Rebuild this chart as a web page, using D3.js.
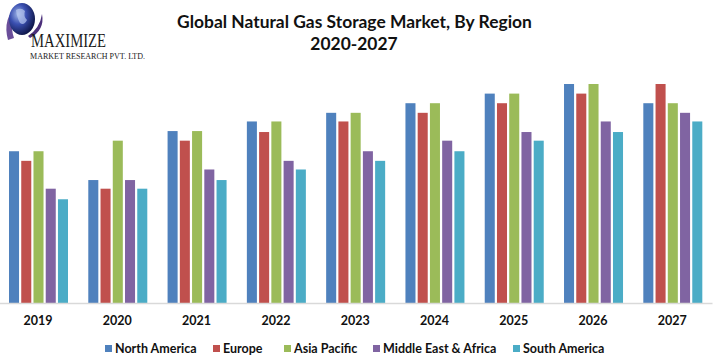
<!DOCTYPE html>
<html>
<head>
<meta charset="utf-8">
<script src="https://cdn.jsdelivr.net/npm/d3@7"></script>
<style>
  html, body { margin: 0; padding: 0; background: #fff; }
  svg { display: block; }
</style>
</head>
<body>
<svg id="chart" width="717" height="359"></svg>
<script>
// ---- data ----
const years = ["2019", "2020", "2021", "2022", "2023", "2024", "2025", "2026", "2027"];
const regions = ["North America", "Europe", "Asia Pacific", "Middle East & Africa", "South America"];
const northAmerica = [15.8, 12.8, 17.9, 18.9, 19.8, 20.8, 21.8, 22.8, 20.8];
const europe       = [14.8, 11.9, 16.9, 17.8, 18.9, 19.8, 20.8, 21.8, 22.8];
const asiaPacific  = [15.8, 16.9, 17.9, 18.9, 19.8, 20.8, 21.8, 22.8, 20.8];
const middleEast   = [11.9, 12.8, 13.9, 14.8, 15.8, 16.9, 17.8, 18.9, 19.8];
const southAmerica = [10.8, 11.9, 12.8, 13.9, 14.8, 15.8, 16.9, 17.8, 18.9];
const seriesValues = [northAmerica, europe, asiaPacific, middleEast, southAmerica];
const colors = ["#4F81BD", "#C0504D", "#9BBB59", "#8064A2", "#4BACC6"];
const titleLines = ["Global Natural Gas Storage Market, By Region", "2020-2027"];

const svg = d3.select("#chart");
const baseY = 303;
const font = "Lato, 'Open Sans', 'Liberation Sans', sans-serif";

const x0 = d3.scaleBand().domain(years).range([-1.6, 712]).padding(0);
const x1 = d3.scaleBand().domain(regions).range([10.6, 69.6]).paddingInner(0.18).paddingOuter(0);
const y = d3.scaleLinear().domain([0, 22.8]).range([baseY, 84]);

// bars
const groups = svg.append("g").selectAll("g").data(years).join("g")
  .attr("transform", d => `translate(${x0(d)},0)`);
groups.selectAll("rect")
  .data((yr, i) => regions.map((r, k) => ({ r, k, v: seriesValues[k][i] })))
  .join("rect")
  .attr("x", d => x1(d.r))
  .attr("width", x1.bandwidth())
  .attr("y", d => y(d.v))
  .attr("height", d => baseY - y(d.v))
  .attr("fill", d => colors[d.k]);

// x axis
const xAxis = d3.axisBottom(x0).tickSize(0).tickPadding(13);
const ax = svg.append("g").attr("transform", `translate(0,${baseY})`).call(xAxis);
ax.select(".domain").attr("stroke", "#D9D9D9").attr("stroke-width", 1.3);
ax.selectAll("text").attr("font-family", font).attr("font-weight", "bold")
  .attr("font-size", 12.5).attr("fill", "#111");

// title
const t1 = svg.append("text").attr("x", 354.5).attr("y", 28).attr("text-anchor", "middle")
  .attr("font-family", font).attr("font-weight", "bold").attr("font-size", 16).attr("fill", "#111")
  .text(titleLines[0]);
const w1 = t1.node().getComputedTextLength();
t1.attr("font-size", 16 * 355 / w1);
svg.append("text").attr("x", 354).attr("y", 50).attr("text-anchor", "middle")
  .attr("font-family", font).attr("font-weight", "bold").attr("font-size", 16 * 355 / w1).attr("fill", "#111")
  .text(titleLines[1]);

// legend
const legendX = [105, 213, 284, 373, 513];
const lg = svg.append("g").selectAll("g").data(regions).join("g")
  .attr("transform", (d, i) => `translate(${legendX[i]},345)`);
lg.append("rect").attr("width", 7).attr("height", 7).attr("fill", (d, i) => colors[i]);
lg.append("text").attr("x", 10).attr("y", 8).attr("font-family", font).attr("font-weight", "bold")
  .attr("font-size", 12.5).attr("fill", "#111").text(d => d);

// logo
const defs = svg.append("defs");
const grad = defs.append("radialGradient").attr("id", "globe").attr("cx", "35%").attr("cy", "35%").attr("r", "70%");
grad.append("stop").attr("offset", "0%").attr("stop-color", "#9fb6e8");
grad.append("stop").attr("offset", "45%").attr("stop-color", "#3a4fb0");
grad.append("stop").attr("offset", "100%").attr("stop-color", "#0d1445");
const logo = svg.append("g");
logo.append("path").attr("d", "M8,40 Q2,18 18,5 Q8,20 14,38 Z").attr("fill", "#6a4e9a");
logo.append("ellipse").attr("cx", 22).attr("cy", 19).attr("rx", 13).attr("ry", 16).attr("fill", "url(#globe)");
logo.append("path").attr("d", "M16,10 Q21,7 25,11 Q23,16 27,20 Q24,26 20,23 Q17,18 16,10 Z").attr("fill", "#b8c8f0").attr("opacity", 0.7);
logo.append("path").attr("d", "M28,36 Q40,28 42,14 Q45,30 30,38 Z").attr("fill", "#4b2f7a");
logo.append("text").attr("x", 31).attr("y", 47).attr("font-family", "'Liberation Serif', 'DejaVu Serif', serif")
  .attr("font-size", 19).attr("fill", "#1a1a1a").attr("textLength", 75).attr("lengthAdjust", "spacingAndGlyphs").text("MAXIMIZE");
logo.append("text").attr("x", 30).attr("y", 58.5).attr("font-family", "'Liberation Serif', 'DejaVu Serif', serif")
  .attr("font-size", 8.5).attr("fill", "#1a1a1a").attr("textLength", 115).attr("lengthAdjust", "spacingAndGlyphs").text("MARKET RESEARCH PVT. LTD.");
</script>
</body>
</html>
